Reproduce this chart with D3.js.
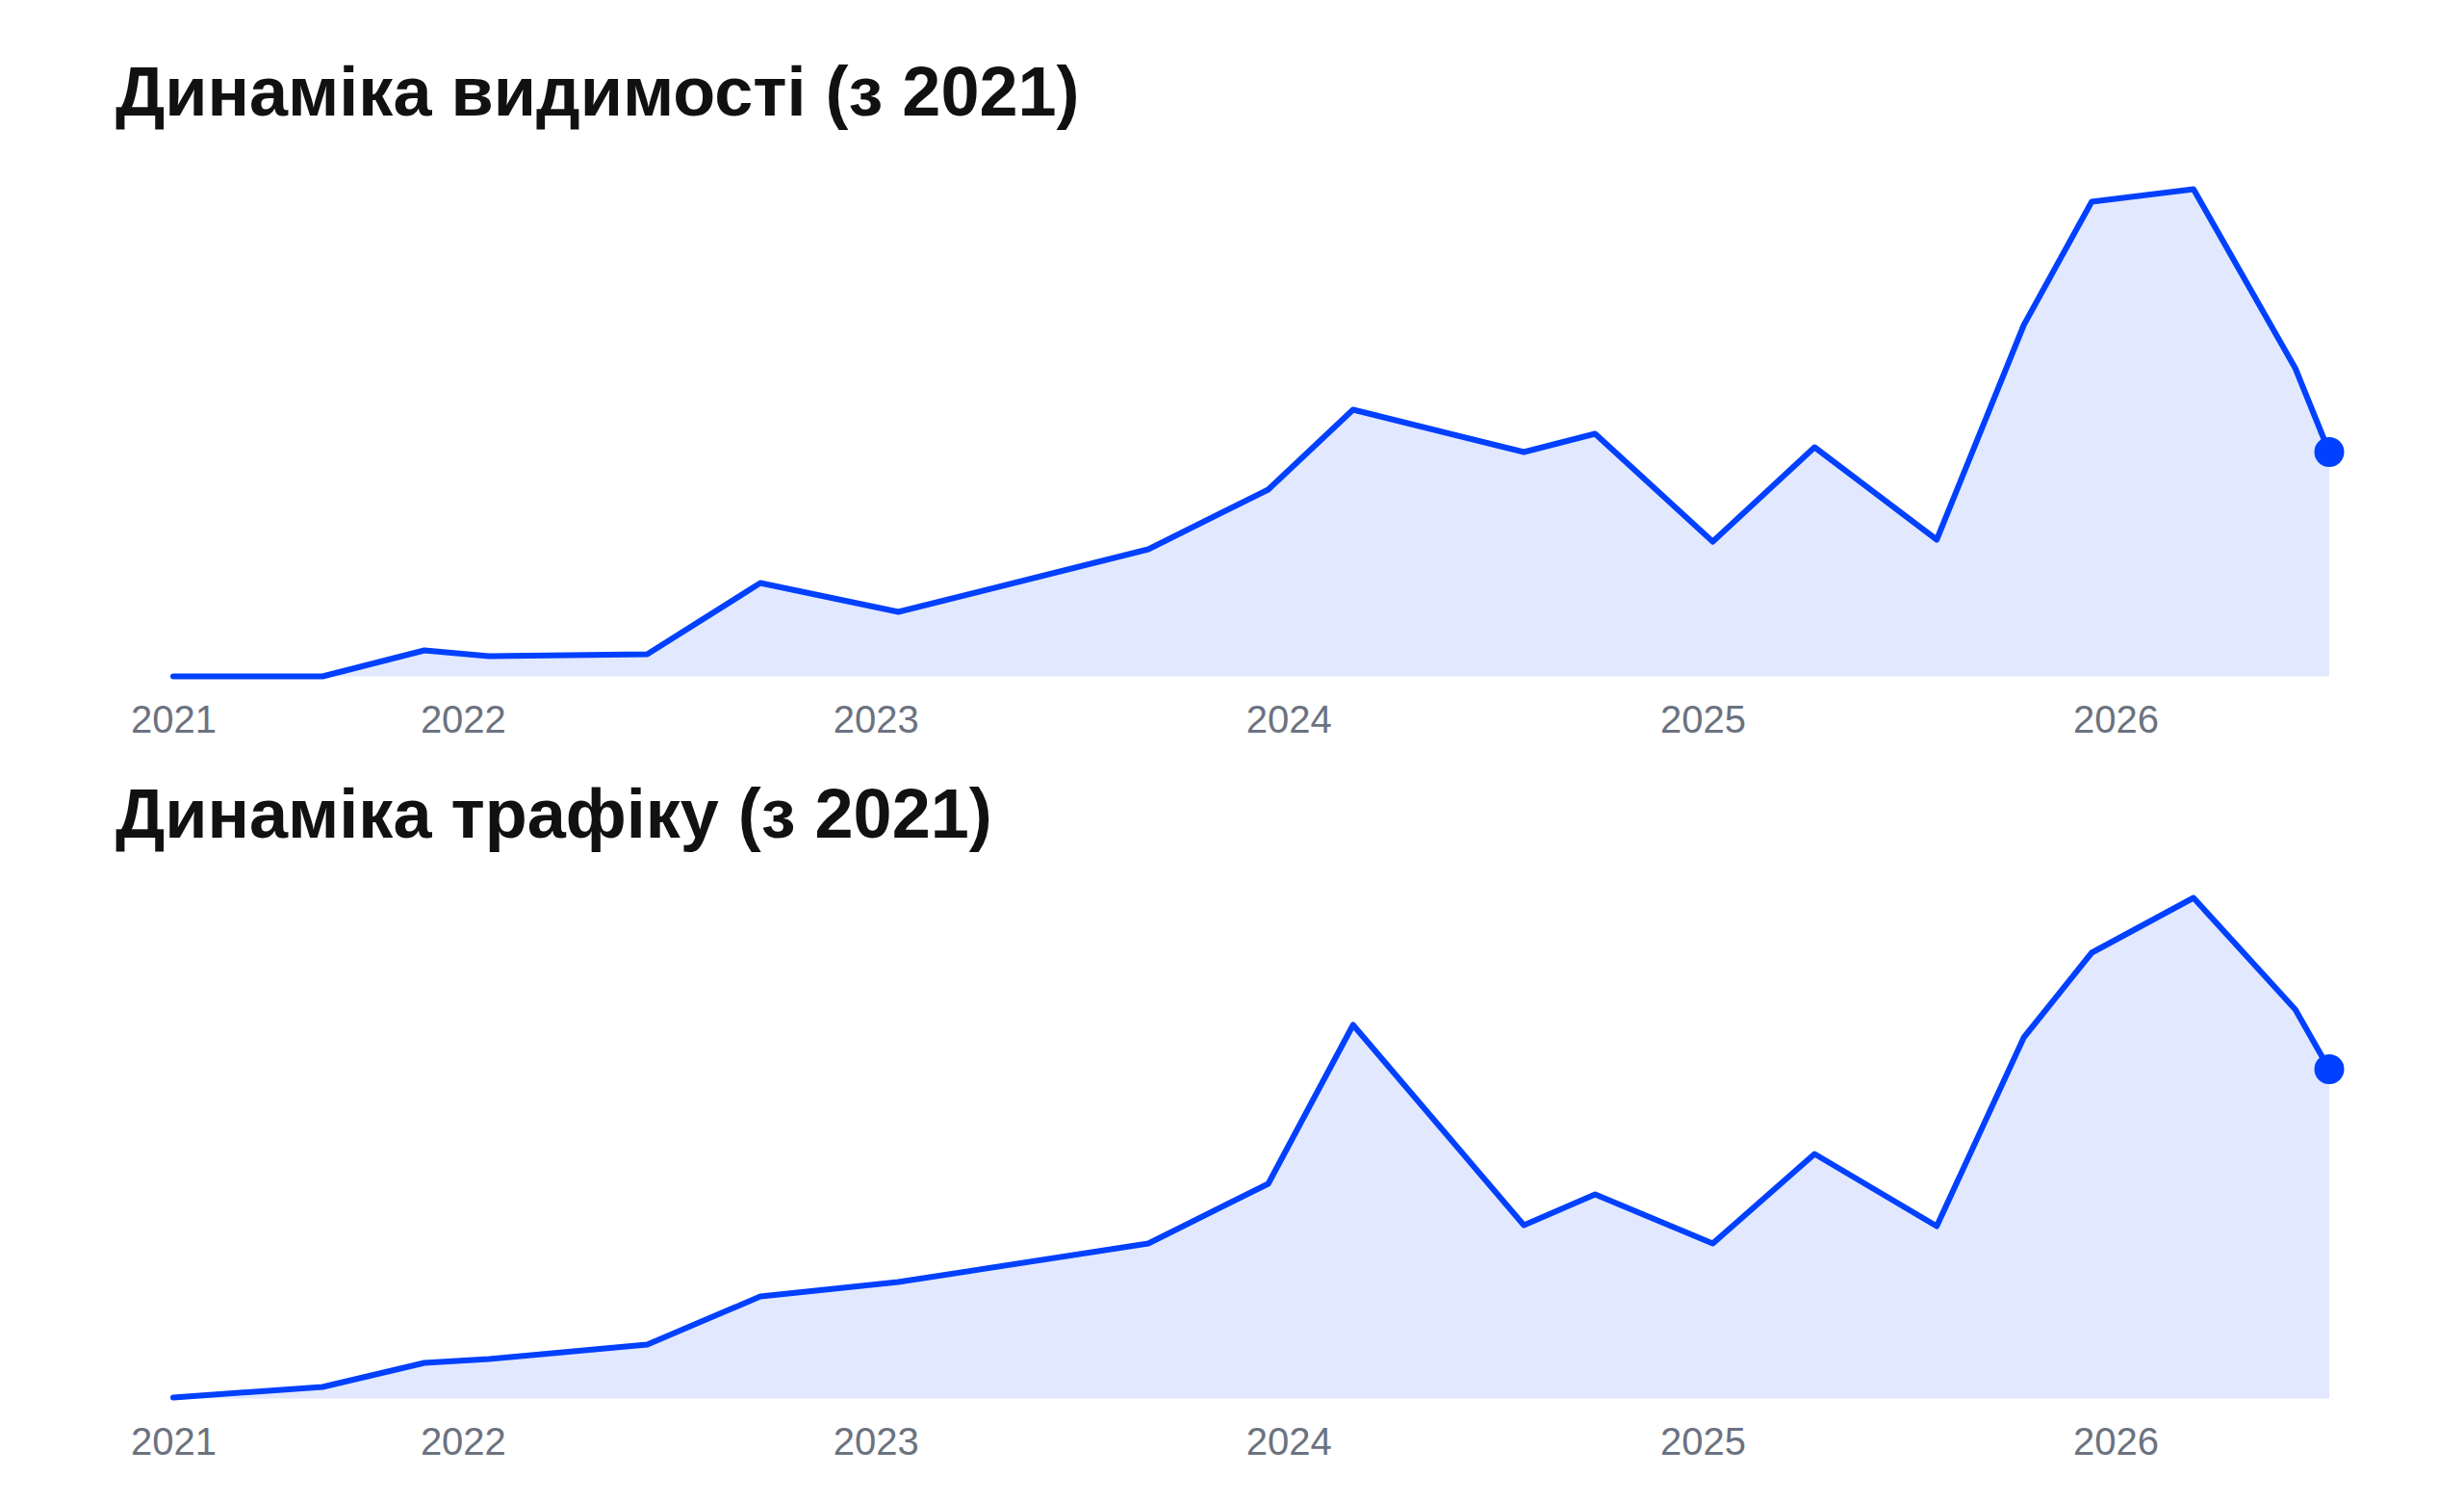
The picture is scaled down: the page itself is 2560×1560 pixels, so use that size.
<!DOCTYPE html>
<html>
<head>
<meta charset="utf-8">
<script src="https://cdn.jsdelivr.net/npm/d3@7"></script>
<style>
  html, body { margin: 0; padding: 0; background: #fff; }
  svg { display: block; }
  .tick text { font-family: "Liberation Sans", Arial, sans-serif; }
</style>
</head>
<body>
<div class="chart"></div>
<script>
// dates of the snapshots (shared by both panels)
const dates = [
    '2021-04-20', '2021-08-30', '2021-11-28', '2022-01-24', '2022-06-13',
    '2022-09-21', '2023-01-21', '2023-08-30', '2023-12-14', '2024-02-27',
    '2024-07-27', '2024-09-28', '2025-01-10', '2025-04-10', '2025-07-27',
    '2025-10-12', '2025-12-11', '2026-03-11', '2026-06-09', '2026-07-09'
];

// visibility index
const visibility = [0, 0, 27, 21, 23, 97, 67, 132, 194, 277,
                    233, 252, 140, 238, 142, 365, 493, 506, 320, 233];

// traffic index
const traffic = [1, 12, 37, 41, 56, 106, 121, 161, 223, 388,
                 180, 212, 161, 254, 179, 375, 463, 520, 404, 342];

const titles = ['Динаміка видимості (з 2021)', 'Динаміка трафіку (з 2021)'];
const tickYears = ['2022-01-01', '2023-01-01', '2024-01-01', '2025-01-01', '2026-01-01'];
const yMax = 560;

const width = 2560, height = 1560;
const margin = { left: 180, right: 140 };
const panelH = 750;
const plotTop = 142.5, plotBottom = 702.5;

const parse = d3.timeParse('%Y-%m-%d');
const xDates = dates.map(parse);

const svg = d3.select('.chart').append('svg')
    .attr('width', width)
    .attr('height', height)
    .attr('viewBox', [0, 0, width, height]);

const x = d3.scaleTime()
    .domain(d3.extent(xDates))
    .range([margin.left, width - margin.right]);

const y = d3.scaleLinear()
    .domain([0, yMax])
    .range([plotBottom, plotTop]);

const ticks = [xDates[0]].concat(tickYears.map(parse));

[visibility, traffic].forEach((series, i) => {
    const data = series.map((v, j) => ({ date: xDates[j], value: v }));

    const g = svg.append('g')
        .attr('transform', `translate(0,${i * panelH})`);

    g.append('text')
        .attr('x', 120)
        .attr('y', 120)
        .attr('font-family', '"Liberation Sans", Arial, sans-serif')
        .attr('font-size', 72)
        .attr('font-weight', 700)
        .attr('fill', '#111111')
        .text(titles[i]);

    const area = d3.area()
        .x(d => x(d.date))
        .y0(y(0))
        .y1(d => y(d.value));

    const line = d3.line()
        .x(d => x(d.date))
        .y(d => y(d.value));

    g.append('path')
        .datum(data)
        .attr('d', area)
        .attr('fill', '#e2e8fd');

    g.append('path')
        .datum(data)
        .attr('d', line)
        .attr('fill', 'none')
        .attr('stroke', '#0040ff')
        .attr('stroke-width', 6)
        .attr('stroke-linejoin', 'round')
        .attr('stroke-linecap', 'round');

    const last = data[data.length - 1];
    g.append('circle')
        .attr('cx', x(last.date))
        .attr('cy', y(last.value))
        .attr('r', 15.5)
        .attr('fill', '#0040ff');

    const axis = g.append('g')
        .attr('transform', `translate(0,${plotBottom})`)
        .call(d3.axisBottom(x)
            .tickValues(ticks)
            .tickFormat(d3.timeFormat('%Y'))
            .tickSize(0)
            .tickPadding(30));

    axis.select('.domain').remove();
    axis.selectAll('text')
        .attr('font-size', 40)
        .attr('fill', '#6b7280');
});
</script>
</body>
</html>
